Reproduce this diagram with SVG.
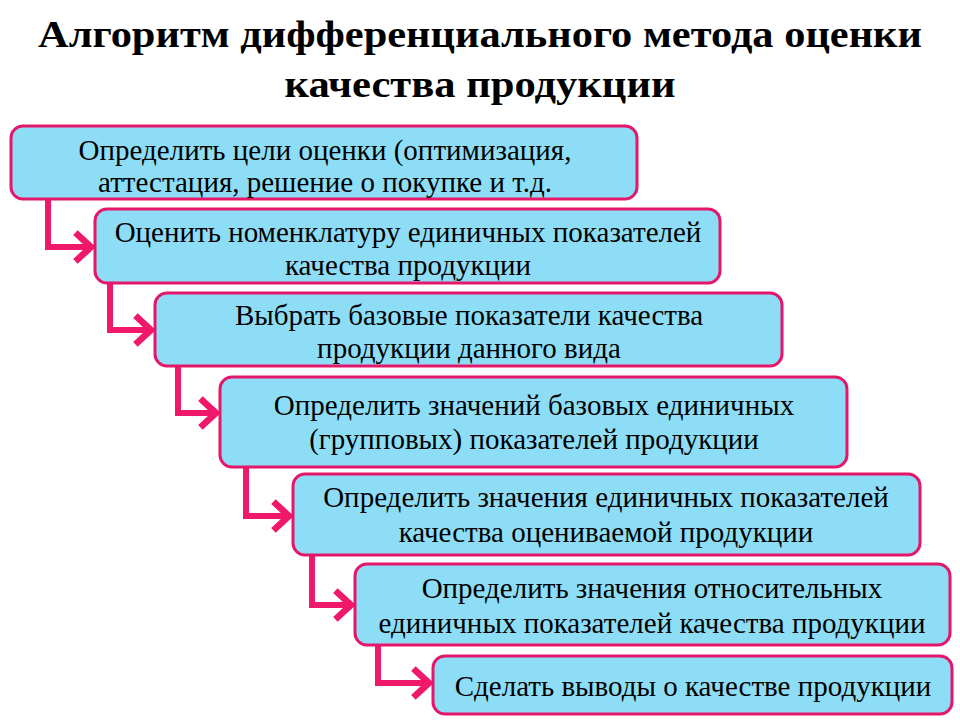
<svg xmlns="http://www.w3.org/2000/svg" width="960" height="720" viewBox="0 0 960 720">
<defs>
<style>
.box{fill:#8EDDF7;stroke:#E5176A;stroke-width:3}
.lbl{font-family:'Liberation Serif','Times New Roman',serif;font-size:29px;fill:#000;text-anchor:middle}
.hd{font-family:'Liberation Serif','Times New Roman',serif;font-size:37px;font-weight:bold;fill:#000;text-anchor:middle}
.c{fill:none;stroke:#F0186A;stroke-width:6;stroke-linejoin:miter}
</style>
<marker id="ah" markerWidth="5" markerHeight="6" refX="3.6" refY="3" orient="auto" markerUnits="strokeWidth">
<polyline points="1,0.6 3.6,3 1,5.4" fill="none" stroke="#F0186A" stroke-width="1.1"/>
</marker>
</defs>
<rect width="960" height="720" fill="#fff"/>
<text class="hd" x="480" y="47" textLength="884" lengthAdjust="spacingAndGlyphs">Алгоритм дифференциального метода оценки</text>
<text class="hd" x="480" y="97" textLength="391" lengthAdjust="spacingAndGlyphs">качества продукции</text>
<g id="connectors">
<path class="c" d="M48,200 V247 H91" marker-end="url(#ah)"/>
<path class="c" d="M110,283 V330 H151" marker-end="url(#ah)"/>
<path class="c" d="M178,367 V413 H216" marker-end="url(#ah)"/>
<path class="c" d="M246,467 V516 H289" marker-end="url(#ah)"/>
<path class="c" d="M312,555 V605 H351" marker-end="url(#ah)"/>
<path class="c" d="M378,645 V683 H429" marker-end="url(#ah)"/>
</g>
<g id="n1"><rect class="box" x="11" y="126" width="626" height="73" rx="12"/>
<text class="lbl" x="325" y="160">Определить цели оценки (оптимизация,</text>
<text class="lbl" x="325" y="192">аттестация, решение о покупке и т.д.</text></g>
<g id="n2"><rect class="box" x="95" y="209" width="625" height="74" rx="12"/>
<text class="lbl" x="408" y="242">Оценить номенклатуру единичных показателей</text>
<text class="lbl" x="408" y="275">качества продукции</text></g>
<g id="n3"><rect class="box" x="155" y="293" width="627" height="73" rx="12"/>
<text class="lbl" x="469" y="325">Выбрать базовые показатели качества</text>
<text class="lbl" x="469" y="358">продукции данного вида</text></g>
<g id="n4"><rect class="box" x="220" y="377" width="627" height="90" rx="12"/>
<text class="lbl" x="534" y="415">Определить значений базовых  единичных</text>
<text class="lbl" x="534" y="449">(групповых) показателей продукции</text></g>
<g id="n5"><rect class="box" x="293" y="474" width="627" height="81" rx="12"/>
<text class="lbl" x="606" y="507">Определить значения единичных показателей</text>
<text class="lbl" x="606" y="542">качества  оцениваемой продукции</text></g>
<g id="n6"><rect class="box" x="355" y="564" width="595" height="81" rx="12"/>
<text class="lbl" x="652" y="598">Определить значения относительных</text>
<text class="lbl" x="652" y="633">единичных показателей качества продукции</text></g>
<g id="n7"><rect class="box" x="433" y="656" width="519" height="58" rx="12"/>
<text class="lbl" x="693" y="696">Сделать выводы о качестве продукции</text></g>
</svg>
